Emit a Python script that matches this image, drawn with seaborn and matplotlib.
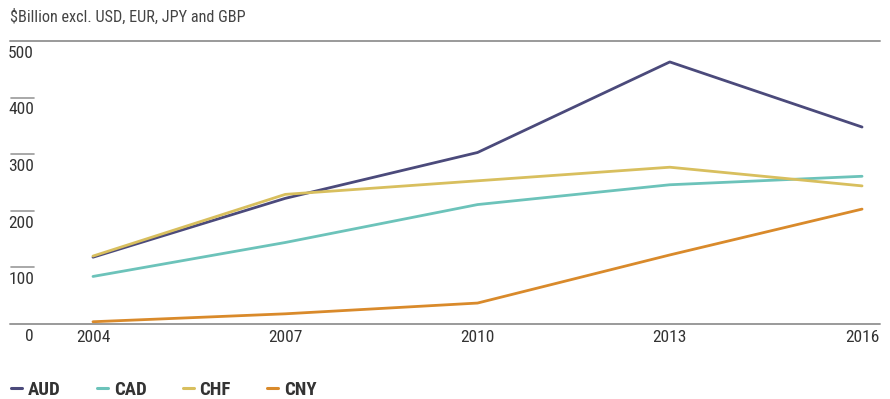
import matplotlib
matplotlib.use("Agg")
import matplotlib.pyplot as plt
import seaborn as sns
import pandas as pd

years = [2004, 2007, 2010, 2013, 2016]
aud = [118, 222, 303, 463, 348]
cad = [84, 144, 211, 246, 261]
chf = [120, 229, 253, 277, 244]
cny = [4, 18, 37, 122, 203]
currencies = ["AUD", "CAD", "CHF", "CNY"]
colors = ["#4b4a7b", "#6cc3ba", "#d8bf5e", "#d98a2b"]
y_ticks = [0, 100, 200, 300, 400, 500]

df = pd.DataFrame({
    "year": years * 4,
    "value": aud + cad + chf + cny,
    "currency": sum([[c] * len(years) for c in currencies], []),
})

sns.set_theme(style="white")
plt.rcParams["font.family"] = ["Roboto Condensed", "Roboto", "DejaVu Sans"]

fig = plt.figure(figsize=(8.9, 3.99), dpi=100)
ax = fig.add_axes([10 / 890, 1 - 324 / 399, 870 / 890, (324 - 41) / 399])

sns.lineplot(data=df, x="year", y="value", hue="currency",
             palette=dict(zip(currencies, colors)), linewidth=2.0,
             ax=ax, legend=False)

ax.set_xlim(2002.705, 2016.28)
ax.set_ylim(0, 500)
for s in ax.spines.values():
    s.set_visible(False)
ax.set_xlabel("")
ax.set_ylabel("")
ax.set_yticks([])
ax.set_xticks(years)
ax.set_xticklabels([str(y) for y in years], fontsize=12.5, color="#333333")
ax.tick_params(axis="x", length=0, pad=4)

grid_col = "#9a9a9a"
ytr = ax.get_yaxis_transform()
for v in y_ticks:
    if v in (0, 500):
        ax.plot([0, 1], [v, v], transform=ytr, color=grid_col, lw=1.4,
                clip_on=False, zorder=1)
    else:
        ax.plot([0.001, 0.0276], [v, v], transform=ytr, color=grid_col,
                lw=1.2, clip_on=False, zorder=1)
    ax.annotate(str(v), xy=(0.0276, v), xycoords=ytr, xytext=(0, -3.5),
                textcoords="offset points", ha="right", va="top",
                fontsize=12.5, color="#333333", annotation_clip=False)

fig.text(10 / 890, 1 - 17 / 399, "$Billion excl. USD, EUR, JPY and GBP",
         ha="left", va="center", fontsize=11.7, color="#444444")

handles = [plt.Line2D([], [], color=c, lw=2.2) for c in colors]
leg = fig.legend(handles, currencies, loc="center left",
                 bbox_to_anchor=(11 / 890, 1 - 390 / 399), ncol=4,
                 frameon=False, borderpad=0, borderaxespad=0,
                 handlelength=0.6, handletextpad=0.3,
                 columnspacing=1.93, prop={"weight": "bold", "size": 13.5})
for t in leg.get_texts():
    t.set_color("#333333")

fig.savefig("out.png", dpi=100)
